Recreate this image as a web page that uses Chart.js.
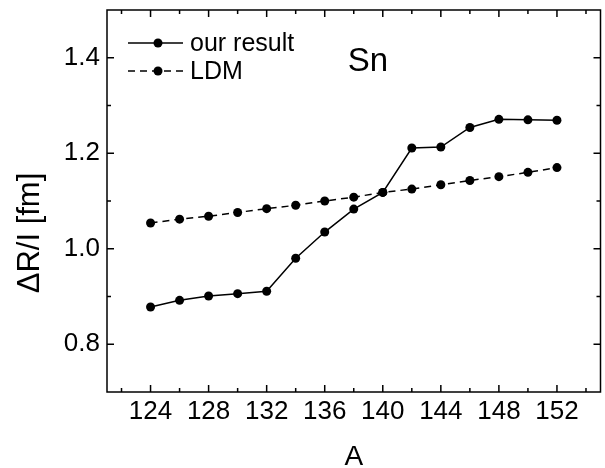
<!DOCTYPE html>
<html>
<head>
<meta charset="utf-8">
<script src="https://cdn.jsdelivr.net/npm/chart.js@4/dist/chart.umd.min.js"></script>
<style>
  html, body { margin: 0; padding: 0; background: #fff; }
  #wrap { width: 605px; height: 468px; position: relative; }
</style>
</head>
<body>
<div id="wrap"><canvas id="chart"></canvas></div>
<script>
/* ── ΔR/I vs A for Sn ── */

const massNumbers = [124, 126, 128, 130, 132, 134, 136, 138, 140, 142, 144, 146, 148, 150, 152];
const ourResult = [0.878, 0.892, 0.901, 0.906, 0.911, 0.980, 1.035, 1.083, 1.118, 1.211, 1.213, 1.254, 1.271, 1.270, 1.269];
const ldm = [1.054, 1.062, 1.068, 1.076, 1.084, 1.091, 1.100, 1.108, 1.118, 1.125, 1.134, 1.143, 1.151, 1.160, 1.170];

const xTicks = [124, 128, 132, 136, 140, 144, 148, 152];
const xMinorTicks = [122, 126, 130, 134, 138, 142, 146, 150, 154];
const yTicks = [0.8, 1.0, 1.2, 1.4];
const yMinorTicks = [0.9, 1.1, 1.3];

const FONT = "'Liberation Sans', Arial, sans-serif";
const INK = '#000';

Chart.defaults.font.family = FONT;
Chart.defaults.color = INK;

// ── frame + inward ticks on all four sides ──
const frameTicks = {
  id: 'frameTicks',
  afterDraw(chart) {
    const { ctx, chartArea: a, scales: { x, y } } = chart;
    ctx.save();
    ctx.strokeStyle = INK;
    ctx.lineWidth = 1.5;
    ctx.strokeRect(a.left, a.top, a.right - a.left, a.bottom - a.top);

    const tickX = (vals, len) => vals.forEach(v => {
      const px = x.getPixelForValue(v);
      ctx.beginPath();
      ctx.moveTo(px, a.bottom); ctx.lineTo(px, a.bottom - len);
      ctx.moveTo(px, a.top); ctx.lineTo(px, a.top + len);
      ctx.stroke();
    });
    const tickY = (vals, len) => vals.forEach(v => {
      const py = y.getPixelForValue(v);
      ctx.beginPath();
      ctx.moveTo(a.left, py); ctx.lineTo(a.left + len, py);
      ctx.moveTo(a.right, py); ctx.lineTo(a.right - len, py);
      ctx.stroke();
    });
    tickX(xTicks, 7);
    tickX(xMinorTicks, 4);
    tickY(yTicks, 7);
    tickY(yMinorTicks, 4);
    ctx.restore();
  }
};

// ── legend box, "Sn" label, y title (sits below centre in the original) ──
const inlineLegend = {
  id: 'inlineLegend',
  afterDraw(chart) {
    const { ctx, chartArea: a } = chart;
    const x0 = a.left + 21, x1 = a.left + 76, dotX = a.left + 51;
    const rows = [
      { y: a.top + 33, dash: [], text: 'our result' },
      { y: a.top + 61, dash: [7, 5], text: 'LDM' },
    ];
    ctx.save();
    rows.forEach(r => {
      ctx.strokeStyle = INK;
      ctx.lineWidth = 1.5;
      ctx.setLineDash(r.dash);
      ctx.beginPath();
      ctx.moveTo(x0, r.y); ctx.lineTo(x1, r.y);
      ctx.stroke();
      ctx.setLineDash([]);
      ctx.fillStyle = INK;
      ctx.beginPath();
      ctx.arc(dotX, r.y, 4.5, 0, Math.PI * 2);
      ctx.fill();
      ctx.font = `25px ${FONT}`;
      ctx.textAlign = 'left';
      ctx.textBaseline = 'middle';
      ctx.fillText(r.text, a.left + 83, r.y + 1);
    });
    ctx.font = `33px ${FONT}`;
    ctx.textAlign = 'center';
    ctx.textBaseline = 'middle';
    ctx.fillText('Sn', a.left + 261, a.top + 52);

    ctx.translate(30, a.top + 223);
    ctx.rotate(-Math.PI / 2);
    ctx.font = `31px ${FONT}`;
    ctx.fillText('ΔR/I [fm]', 0, 0);
    ctx.restore();
  }
};

new Chart(document.getElementById('chart'), {
  type: 'line',
  data: {
    datasets: [
      {
        label: 'our result',
        data: massNumbers.map((a, i) => ({ x: a, y: ourResult[i] })),
        borderColor: INK,
        backgroundColor: INK,
        borderWidth: 1.5,
        pointRadius: 4.5,
        pointBorderWidth: 0,
        tension: 0,
      },
      {
        label: 'LDM',
        data: massNumbers.map((a, i) => ({ x: a, y: ldm[i] })),
        borderColor: INK,
        backgroundColor: INK,
        borderWidth: 1.5,
        borderDash: [7, 5],
        pointRadius: 4.5,
        pointBorderWidth: 0,
        tension: 0,
      }
    ]
  },
  options: {
    responsive: true,
    maintainAspectRatio: false,
    animation: false,
    layout: { padding: { top: 10, right: 0, left: 0, bottom: 0 } },
    plugins: {
      legend: { display: false },
      tooltip: { enabled: false },
    },
    scales: {
      x: {
        type: 'linear',
        min: 121, max: 155,
        afterBuildTicks: s => { s.ticks = xTicks.map(v => ({ value: v })); },
        afterFit: s => { s.height = 76; s.paddingLeft = 0; s.paddingRight = 0; },
        grid: { display: false, drawTicks: false },
        border: { display: false },
        ticks: { font: { size: 26 }, padding: 4, color: INK, maxRotation: 0 },
        title: { display: true, text: 'A', font: { size: 28 }, color: INK, padding: { top: 0, bottom: -6 } },
      },
      y: {
        type: 'linear',
        min: 0.7, max: 1.5,
        afterBuildTicks: s => { s.ticks = yTicks.map(v => ({ value: v })); },
        afterFit: s => { s.width = 107; s.paddingTop = 0; s.paddingBottom = 0; },
        grid: { display: false, drawTicks: false },
        border: { display: false },
        ticks: { font: { size: 26 }, padding: 7, color: INK, callback: v => v.toFixed(1) },
        title: { display: false },
      }
    }
  },
  plugins: [frameTicks, inlineLegend]
});
</script>
</body>
</html>
